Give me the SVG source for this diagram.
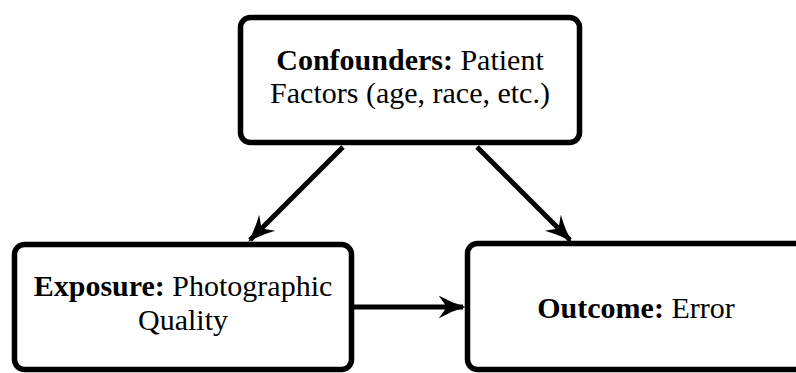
<svg xmlns="http://www.w3.org/2000/svg" width="796" height="373" viewBox="0 0 796 373">
<style>
.box{fill:#fff;stroke:#000;stroke-width:5.5}
.t{font-family:"Liberation Serif",serif;font-size:30px;fill:#000;text-anchor:middle}
.b{font-weight:bold}
.edge{stroke:#000;stroke-width:5;fill:none}
</style>
<defs>
<marker id="ah" viewBox="0 0 10 10" refX="9" refY="5" markerWidth="5.4" markerHeight="5.4" orient="auto" markerUnits="strokeWidth">
<path d="M0,0.8 Q5,3.6 10,5 Q5,6.4 0,9.2 L3,5 Z" fill="#000"/>
</marker>
</defs>
<g id="connectors">
<line class="edge" x1="343" y1="147" x2="250" y2="240" marker-end="url(#ah)"/>
<line class="edge" x1="477" y1="147" x2="570" y2="240" marker-end="url(#ah)"/>
<line class="edge" x1="354" y1="307" x2="463" y2="307" marker-end="url(#ah)"/>
</g>
<g id="confounders">
<rect class="box" x="240.5" y="17.5" width="339" height="125" rx="10"/>
<text class="t" x="410" y="70"><tspan class="b">Confounders:</tspan> Patient</text>
<text class="t" x="410" y="103">Factors (age, race, etc.)</text>
</g>
<g id="exposure">
<rect class="box" x="14.5" y="244.5" width="337" height="125" rx="10"/>
<text class="t" x="183" y="296"><tspan class="b">Exposure:</tspan> Photographic</text>
<text class="t" x="183" y="330">Quality</text>
</g>
<g id="outcome">
<rect class="box" x="467.5" y="243.5" width="340" height="126" rx="10"/>
<text class="t" x="636" y="318"><tspan class="b">Outcome:</tspan> Error</text>
</g>
</svg>
